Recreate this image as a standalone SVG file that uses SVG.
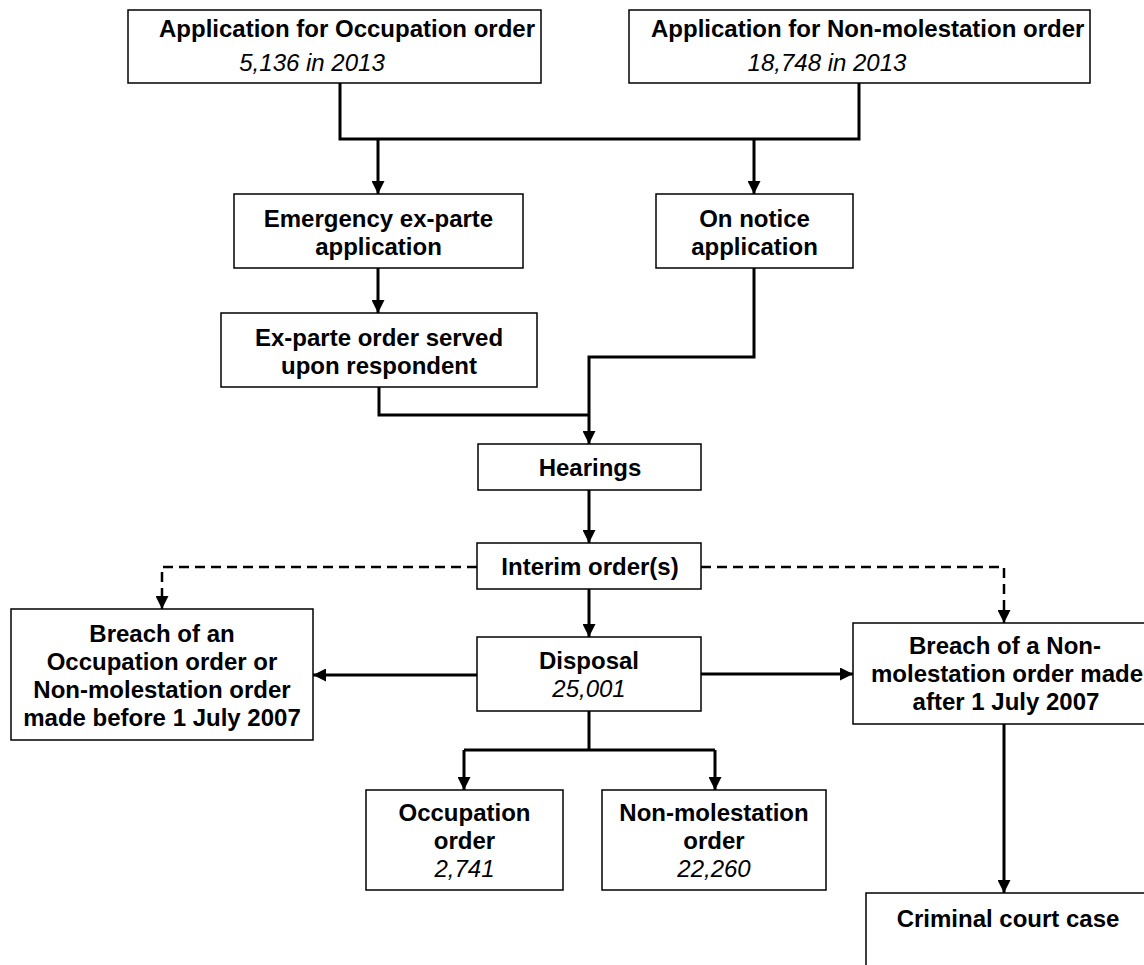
<svg xmlns="http://www.w3.org/2000/svg" width="1144" height="965" viewBox="0 0 1144 965">
<style>
.box{fill:#fff;stroke:#000;stroke-width:1.5}
.t{font-family:"Liberation Sans",Arial,sans-serif;font-size:24px;font-weight:bold;fill:#000;text-anchor:middle}
.ts{text-anchor:start}
.i{font-family:"Liberation Sans",Arial,sans-serif;font-size:24px;font-style:italic;fill:#000;text-anchor:middle}
.c{fill:none;stroke:#000;stroke-width:3}
.d{fill:none;stroke:#000;stroke-width:2.5;stroke-dasharray:10 6}
</style>
<defs>
<marker id="ah" viewBox="0 0 12 12" refX="12" refY="6" markerWidth="13" markerHeight="13" markerUnits="userSpaceOnUse" orient="auto">
<path d="M0,0 L12,6 L0,12 z" fill="#000"/>
</marker>
</defs>
<rect width="1144" height="965" fill="#fff"/>
<g id="connectors">
<path class="c" d="M340,83 V139 H859 V83"/>
<path class="c" d="M378,139 V194" marker-end="url(#ah)"/>
<path class="c" d="M754,139 V194" marker-end="url(#ah)"/>
<path class="c" d="M378,268 V313" marker-end="url(#ah)"/>
<path class="c" d="M379,387 V415 H589"/>
<path class="c" d="M754,268 V357 H589 V444" marker-end="url(#ah)"/>
<path class="c" d="M589,490 V543" marker-end="url(#ah)"/>
<path class="c" d="M589,589 V637" marker-end="url(#ah)"/>
<path class="d" d="M477,567 H162 V609" marker-end="url(#ah)"/>
<path class="d" d="M701,567 H1004 V623" marker-end="url(#ah)"/>
<path class="c" d="M477,675 H313" marker-end="url(#ah)"/>
<path class="c" d="M701,674 H853" marker-end="url(#ah)"/>
<path class="c" d="M589,711 V750"/>
<path class="c" d="M464,750 H715"/>
<path class="c" d="M464,750 V790" marker-end="url(#ah)"/>
<path class="c" d="M715,750 V790" marker-end="url(#ah)"/>
<path class="c" d="M1004,724 V893" marker-end="url(#ah)"/>
</g>
<g id="app-occupation">
<rect class="box" x="128" y="10" width="413" height="73"/>
<text class="t ts" x="159" y="37">Application for Occupation order</text>
<text class="i ts" x="312" y="71">5,136 in 2013</text>
</g>
<g id="app-nonmolestation">
<rect class="box" x="629" y="10" width="461" height="73"/>
<text class="t ts" x="651" y="37">Application for Non-molestation order</text>
<text class="i ts" x="827" y="71">18,748 in 2013</text>
</g>
<g id="emergency">
<rect class="box" x="234" y="194" width="289" height="74"/>
<text class="t" x="378.5" y="227">Emergency ex-parte</text>
<text class="t" x="378.5" y="255">application</text>
</g>
<g id="on-notice">
<rect class="box" x="656" y="194" width="197" height="74"/>
<text class="t" x="754.5" y="227">On notice</text>
<text class="t" x="754.5" y="255">application</text>
</g>
<g id="exparte-served">
<rect class="box" x="221" y="313" width="316" height="74"/>
<text class="t" x="379" y="346">Ex-parte order served</text>
<text class="t" x="379" y="374">upon respondent</text>
</g>
<g id="hearings">
<rect class="box" x="478" y="444" width="223" height="46"/>
<text class="t" x="590" y="475.5">Hearings</text>
</g>
<g id="interim">
<rect class="box" x="477" y="543" width="224" height="46"/>
<text class="t" x="590" y="574.5">Interim order(s)</text>
</g>
<g id="disposal">
<rect class="box" x="477" y="637" width="224" height="74"/>
<text class="t" x="589" y="669">Disposal</text>
<text class="i" x="589" y="697">25,001</text>
</g>
<g id="breach-before">
<rect class="box" x="11" y="609" width="302" height="131"/>
<text class="t" x="162" y="642">Breach of an</text>
<text class="t" x="162" y="670">Occupation order or</text>
<text class="t" x="162" y="698">Non-molestation order</text>
<text class="t" x="162" y="726">made before 1 July 2007</text>
</g>
<g id="breach-after">
<rect class="box" x="853" y="623" width="310" height="101"/>
<text class="t" x="1005" y="654">Breach of a Non-</text>
<text class="t" x="1007" y="682">molestation order made</text>
<text class="t" x="1006" y="710">after 1 July 2007</text>
</g>
<g id="occupation-order">
<rect class="box" x="366" y="790" width="197" height="100"/>
<text class="t" x="464.5" y="821">Occupation</text>
<text class="t" x="464.5" y="849">order</text>
<text class="i" x="464.5" y="877">2,741</text>
</g>
<g id="nonmolestation-order">
<rect class="box" x="602" y="790" width="224" height="100"/>
<text class="t" x="714" y="821">Non-molestation</text>
<text class="t" x="714" y="849">order</text>
<text class="i" x="714" y="877">22,260</text>
</g>
<g id="criminal">
<rect class="box" x="866" y="893" width="290" height="90"/>
<text class="t" x="1008" y="927">Criminal court case</text>
</g>
</svg>
